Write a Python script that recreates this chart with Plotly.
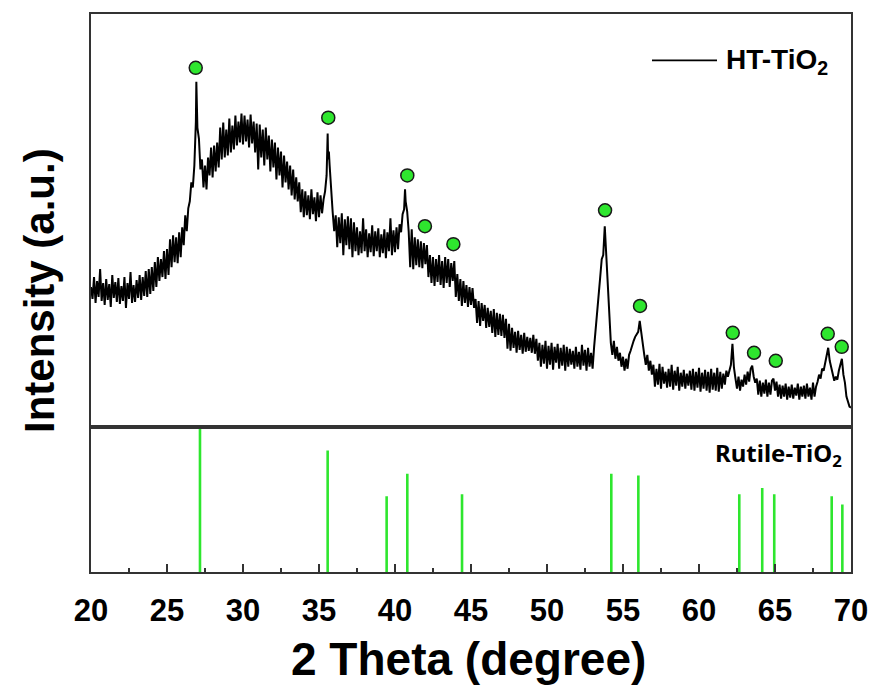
import numpy as np
import plotly.graph_objects as go

# ---------------- data ----------------
# HT-TiO2 scan, sampled every 0.1 degree from 20.0 to 70.0 (arbitrary units)
r20 = [140, 128, 150, 124, 146, 130, 158, 126, 144, 122]
r21 = [148, 127, 143, 120, 152, 129, 145, 125, 149, 123]
r22 = [141, 126, 150, 119, 144, 128, 155, 124, 142, 125]
r23 = [147, 129, 152, 127, 150, 131, 156, 130, 158, 133]
r24 = [160, 136, 165, 140, 170, 146, 168, 150, 176, 148]
r25 = [178, 152, 188, 160, 192, 165, 190, 164, 195, 170]
r26 = [200, 182, 212, 196, 219, 226, 245, 240, 262, 306]
r27 = [300, 289, 258, 268, 240, 262, 238, 270, 252, 280]
r28 = [250, 282, 256, 285, 260, 300, 268, 305, 270, 298]
r29 = [272, 309, 275, 302, 278, 312, 282, 306, 285, 314]
r30 = [283, 312, 286, 308, 280, 313, 284, 306, 275, 304]
r31 = [258, 303, 270, 298, 262, 300, 268, 292, 256, 288]
r32 = [260, 285, 248, 280, 252, 276, 240, 272, 245, 266]
r33 = [238, 262, 232, 258, 228, 250, 226, 245, 215, 238]
r34 = [210, 236, 212, 232, 208, 238, 213, 230, 206, 235]
r35 = [210, 232, 214, 228, 236, 252, 268, 262, 232, 215]
r36 = [196, 212, 180, 210, 184, 214, 172, 208, 182, 211]
r37 = [178, 209, 170, 205, 176, 200, 172, 196, 174, 209]
r38 = [176, 198, 170, 194, 175, 202, 171, 196, 176, 199]
r39 = [170, 193, 174, 198, 169, 195, 176, 209, 172, 197]
r40 = [175, 200, 178, 203, 195, 213, 218, 226, 216, 196]
r41 = [160, 198, 158, 190, 162, 188, 160, 186, 159, 184]
r42 = [163, 182, 150, 172, 144, 170, 141, 168, 145, 172]
r43 = [142, 166, 139, 170, 144, 168, 140, 164, 146, 166]
r44 = [130, 153, 126, 148, 121, 146, 124, 142, 120, 140]
r45 = [122, 139, 119, 128, 104, 126, 101, 124, 106, 122]
r46 = [99, 119, 100, 116, 94, 118, 90, 114, 92, 113]
r47 = [91, 112, 89, 108, 78, 103, 76, 99, 79, 95]
r48 = [74, 96, 77, 92, 73, 94, 75, 90, 76, 89]
r49 = [74, 92, 73, 88, 66, 84, 60, 82, 63, 86]
r50 = [58, 81, 62, 84, 57, 80, 64, 83, 58, 79]
r51 = [61, 82, 56, 80, 60, 78, 62, 76, 58, 80]
r52 = [60, 75, 57, 82, 61, 77, 56, 79, 60, 74]
r53 = [58, 80, 96, 118, 130, 150, 168, 172, 201, 170]
r54 = [153, 113, 84, 72, 86, 68, 80, 66, 74, 60]
r55 = [70, 56, 68, 58, 72, 76, 82, 86, 90, 93]
r56 = [95, 106, 93, 84, 72, 62, 72, 56, 66, 52]
r57 = [62, 40, 58, 42, 63, 38, 60, 43, 55, 39]
r58 = [58, 40, 62, 37, 56, 41, 60, 36, 54, 40]
r59 = [57, 38, 53, 41, 56, 37, 58, 36, 55, 39]
r60 = [59, 35, 54, 38, 57, 36, 55, 34, 58, 37]
r61 = [54, 36, 59, 35, 55, 38, 53, 42, 56, 50]
r62 = [58, 62, 83, 59, 48, 38, 50, 36, 47, 40]
r63 = [52, 42, 55, 45, 58, 61, 50, 44, 48, 32]
r64 = [46, 30, 44, 33, 47, 30, 44, 32, 46, 48]
r65 = [36, 45, 30, 42, 28, 41, 30, 43, 27, 40]
r66 = [29, 42, 28, 39, 31, 43, 27, 40, 30, 41]
r67 = [28, 43, 30, 39, 27, 44, 30, 40, 45, 52]
r68 = [48, 58, 56, 64, 68, 79, 66, 58, 50, 46]
r69 = [50, 47, 56, 62, 68, 52, 44, 30, 26, 20]
r70 = [19]

scan_rows = [r20, r21, r22, r23, r24, r25, r26, r27, r28, r29, r30, r31, r32,
             r33, r34, r35, r36, r37, r38, r39, r40, r41, r42, r43, r44, r45,
             r46, r47, r48, r49, r50, r51, r52, r53, r54, r55, r56, r57, r58,
             r59, r60, r61, r62, r63, r64, r65, r66, r67, r68, r69, r70]
scan_start = 20.0
scan_step = 0.1

# sharp peak tops that fall between the 0.1-degree samples
peak_theta = [26.93, 26.97, 35.57, 35.65, 40.66]
peak_intensity = [346, 318, 294, 276, 238]

# green circle markers (identified rutile reflections)
marker_theta = [26.89, 35.61, 40.81, 41.97, 43.84, 53.82, 56.12, 62.22, 63.62, 65.05, 68.47, 69.39]
marker_intensity = [360, 310, 252, 201, 183, 217, 121, 94, 74, 66, 93, 80]

# Rutile-TiO2 reference pattern (relative intensity)
ref_theta = [27.17, 35.57, 39.45, 40.81, 44.41, 54.23, 56.01, 62.65, 64.16, 64.95, 68.73, 69.43]
ref_intensity = [100, 83.6, 52, 67.6, 53.4, 67.6, 66.4, 53.4, 57.7, 53.4, 52, 46.4]

x_ticks = [20, 25, 30, 35, 40, 45, 50, 55, 60, 65, 70]

# ---------------- build series ----------------
scan_intensity = [v for row in scan_rows for v in row]
scan_theta = np.round(scan_start + scan_step * np.arange(len(scan_intensity)), 2)
theta_all = np.concatenate([scan_theta, np.array(peak_theta)])
int_all = np.concatenate([np.array(scan_intensity, float), np.array(peak_intensity, float)])
order = np.argsort(theta_all, kind="stable")
theta_all = theta_all[order]
int_all = int_all[order]

stick_x, stick_y = [], []
for t, h in zip(ref_theta, ref_intensity):
    stick_x += [t, t, None]
    stick_y += [0, h, None]

GREEN = "#2ee62e"
FRAME = "#333333"
FONT = "Liberation Sans, Arial, sans-serif"

# plot-area geometry in pixels
L, R, T, B = 91, 21, 12, 118
W = 872 - L - R
H = 690 - T - B

fig = go.Figure()
fig.add_trace(go.Scatter(x=theta_all, y=int_all, mode="lines",
                         line=dict(color="black", width=2.0),
                         xaxis="x2", yaxis="y", showlegend=False, hoverinfo="skip"))
fig.add_trace(go.Scatter(x=marker_theta, y=marker_intensity, mode="markers",
                         marker=dict(color=GREEN, size=13, line=dict(color="#1a1a1a", width=1.5)),
                         xaxis="x2", yaxis="y", showlegend=False))
fig.add_trace(go.Scatter(x=stick_x, y=stick_y, mode="lines",
                         line=dict(color=GREEN, width=2.6),
                         xaxis="x", yaxis="y2", showlegend=False))

split = 146 / H
axis_common = dict(showline=True, linecolor=FRAME, linewidth=2, mirror=True,
                   showgrid=False, zeroline=False)

fig.update_layout(
    width=872, height=690, autosize=False,
    margin=dict(l=L, r=R, t=T, b=B, pad=0),
    paper_bgcolor="white", plot_bgcolor="white",
    xaxis=dict(domain=[0, 1], anchor="y2", range=[20, 70],
               tickmode="array", tickvals=x_ticks, ticktext=[str(v) for v in x_ticks],
               ticks="inside", ticklen=8, tickwidth=1.5, tickcolor=FRAME,
               minor=dict(ticks="inside", ticklen=4, tickwidth=1.5, tickcolor=FRAME,
                          tickvals=[22.5, 27.5, 32.5, 37.5, 42.5, 47.5, 52.5, 57.5, 62.5, 67.5]),
               tickfont=dict(family=FONT, size=31, color="black", weight="bold"),
               ticklabelstandoff=10, automargin=False,
               **axis_common),
    xaxis2=dict(domain=[0, 1], anchor="y", range=[20, 70], matches="x",
                showticklabels=False, ticks="", **axis_common),
    yaxis=dict(domain=[split, 1], anchor="x2", range=[0, 414],
               showticklabels=False, ticks="", **axis_common),
    yaxis2=dict(domain=[0, split], anchor="x", range=[0, 100],
                showticklabels=False, ticks="", **axis_common),
)


def px_x(p):
    return (p - L) / W


def px_y(p):
    return (690 - B - p) / H


fig.add_shape(type="line", xref="paper", yref="paper",
              x0=px_x(652), x1=px_x(717), y0=px_y(58.5), y1=px_y(58.5),
              line=dict(color="black", width=1.6))

fig.add_annotation(text="HT-TiO<sub>2</sub>", xref="paper", yref="paper",
                   x=px_x(724), y=px_y(60), xanchor="left", yanchor="middle",
                   showarrow=False, font=dict(family=FONT, size=28, color="black", weight="bold"))
fig.add_annotation(text="Rutile-TiO<sub>2</sub>", xref="paper", yref="paper",
                   x=px_x(844), y=px_y(454), xanchor="right", yanchor="middle",
                   showarrow=False, font=dict(family="Noto Sans, sans-serif", size=24, color="black", weight="bold"))
fig.add_annotation(text="Intensity (a.u.)", xref="paper", yref="paper",
                   x=px_x(39), y=px_y(290), xanchor="center", yanchor="middle",
                   textangle=-90, showarrow=False,
                   font=dict(family=FONT, size=42, color="black", weight="bold"))
fig.add_annotation(text="2 Theta (degree)", xref="paper", yref="paper",
                   x=px_x(468), y=px_y(659), xanchor="center", yanchor="middle",
                   showarrow=False,
                   font=dict(family=FONT, size=46, color="black", weight="bold"))

fig.write_html("out.html")
